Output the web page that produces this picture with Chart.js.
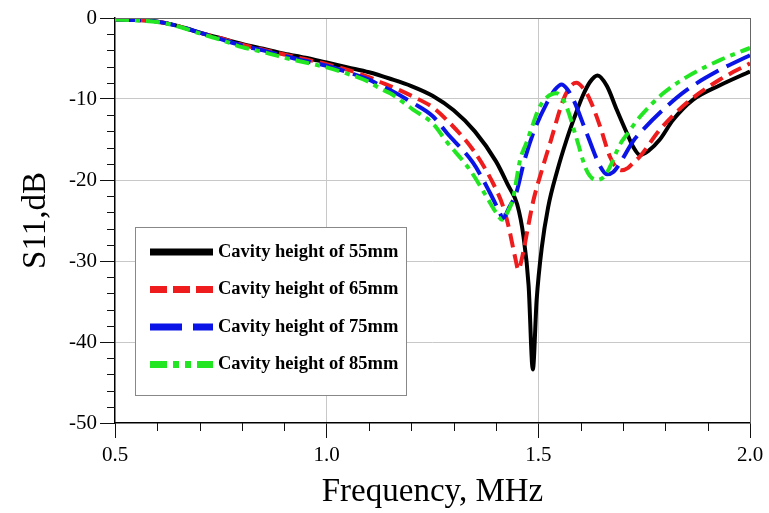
<!DOCTYPE html>
<html>
<head>
<meta charset="utf-8">
<script src="https://cdn.jsdelivr.net/npm/chart.js@4.4.0/dist/chart.umd.min.js"></script>
<style>
  body { margin: 0; background: #fff; }
  #wrap { width: 769px; height: 513px; }
</style>
</head>
<body>
<div id="wrap"><canvas id="s11Chart" width="769" height="513"></canvas></div>
<script>
// S11 vs frequency for four cavity heights
var freq55 = [0.5, 0.55, 0.6, 0.65, 0.7, 0.75, 0.8, 0.85, 0.9, 0.95, 1.0, 1.05, 1.1, 1.15, 1.2, 1.25, 1.3, 1.35, 1.4, 1.43, 1.45, 1.465, 1.477, 1.487, 1.496, 1.508, 1.523, 1.545, 1.567, 1.585, 1.605, 1.622, 1.64, 1.662, 1.685, 1.709, 1.724, 1.74, 1.76, 1.787, 1.818, 1.865, 1.929, 2.0];
var s55    = [-0.2, -0.25, -0.45, -1.0, -1.8, -2.5, -3.2, -3.8, -4.4, -4.9, -5.5, -6.1, -6.7, -7.5, -8.4, -9.6, -11.4, -14.0, -17.7, -20.8, -23.0, -27.0, -33.0, -43.4, -34.8, -28.4, -23.4, -18.8, -15.0, -12.3, -9.6, -7.9, -7.1, -8.4, -11.3, -14.2, -15.9, -16.9, -16.4, -15.0, -12.6, -10.1, -8.3, -6.6];

var freq65 = [0.5, 0.55, 0.6, 0.65, 0.7, 0.75, 0.8, 0.85, 0.9, 0.95, 1.0, 1.05, 1.1, 1.126, 1.15, 1.204, 1.25, 1.284, 1.346, 1.393, 1.417, 1.43, 1.445, 1.453, 1.462, 1.475, 1.488, 1.51, 1.528, 1.559, 1.575, 1.59, 1.605, 1.622, 1.646, 1.669, 1.685, 1.697, 1.712, 1.724, 1.74, 1.787, 1.85, 1.929, 2.0];
var s65    = [-0.2, -0.25, -0.45, -1.0, -1.8, -2.5, -3.3, -3.9, -4.5, -5.1, -5.7, -6.4, -7.3, -7.9, -8.4, -9.7, -11.0, -12.6, -16.3, -20.4, -23.3, -25.8, -29.5, -31.1, -29.5, -26.0, -22.6, -18.5, -15.4, -10.1, -8.5, -8.0, -8.6, -10.1, -13.4, -17.1, -18.5, -18.8, -18.5, -17.9, -17.1, -13.8, -10.5, -7.6, -5.6];

var freq75 = [0.5, 0.55, 0.6, 0.65, 0.7, 0.75, 0.8, 0.85, 0.9, 0.95, 1.0, 1.05, 1.1, 1.126, 1.15, 1.204, 1.25, 1.284, 1.346, 1.386, 1.405, 1.417, 1.43, 1.449, 1.465, 1.488, 1.52, 1.54, 1.555, 1.567, 1.583, 1.614, 1.646, 1.662, 1.677, 1.693, 1.724, 1.74, 1.795, 1.85, 1.929, 2.0];
var s75    = [-0.2, -0.25, -0.45, -1.0, -1.8, -2.6, -3.4, -4.0, -4.7, -5.3, -5.9, -6.7, -7.6, -8.3, -8.9, -10.5, -12.1, -14.2, -17.9, -21.6, -23.6, -24.7, -23.5, -21.4, -18.0, -14.2, -10.5, -8.8, -8.2, -8.7, -10.1, -14.2, -18.3, -19.3, -19.0, -17.9, -15.2, -14.2, -11.3, -8.9, -6.4, -4.6];

var freq85 = [0.5, 0.55, 0.6, 0.65, 0.7, 0.75, 0.8, 0.85, 0.9, 0.95, 1.0, 1.05, 1.1, 1.126, 1.15, 1.204, 1.25, 1.284, 1.339, 1.378, 1.4, 1.414, 1.427, 1.44, 1.457, 1.472, 1.488, 1.5, 1.52, 1.543, 1.555, 1.567, 1.591, 1.614, 1.638, 1.655, 1.669, 1.693, 1.709, 1.74, 1.795, 1.85, 1.929, 2.0];
var s85    = [-0.2, -0.3, -0.5, -1.05, -1.9, -2.7, -3.6, -4.2, -4.9, -5.5, -6.1, -6.9, -7.9, -8.7, -9.3, -11.3, -13.0, -15.3, -18.8, -22.1, -24.0, -24.9, -24.0, -22.3, -17.5, -15.4, -13.0, -11.3, -9.8, -9.3, -9.8, -11.0, -15.0, -18.8, -20.0, -19.6, -18.4, -15.6, -14.4, -12.2, -9.3, -7.3, -5.2, -3.7];

var seriesNames = ["Cavity height of 55mm", "Cavity height of 65mm", "Cavity height of 75mm", "Cavity height of 85mm"];
var xTicks = [0.5, 1.0, 1.5, 2.0];
var yTicks = [0, -10, -20, -30, -40, -50];

function toPoints(fs, vs) {
  return fs.map(function (f, i) { return { x: f, y: vs[i] }; });
}

var serif = "'Liberation Serif', 'Times New Roman', serif";

// minor tick marks + top/right frame
var frameTicks = {
  id: 'frameTicks',
  afterDraw: function (chart) {
    var ctx = chart.ctx, a = chart.chartArea, x = chart.scales.x, y = chart.scales.y;
    ctx.save();
    ctx.strokeStyle = '#111';
    ctx.lineWidth = 1;
    ctx.beginPath();
    for (var i = 1; i < 15; i++) {
      if (i % 5 === 0) continue;
      var px = Math.round(x.getPixelForValue(0.5 + i * 0.1)) + 0.5;
      ctx.moveTo(px, a.bottom);
      ctx.lineTo(px, a.bottom + 8);
    }
    for (var j = 1; j < 25; j++) {
      if (j % 5 === 0) continue;
      var py = Math.round(y.getPixelForValue(-j * 2)) + 0.5;
      ctx.moveTo(a.left, py);
      ctx.lineTo(a.left - 8, py);
    }
    ctx.stroke();
    ctx.strokeStyle = '#666';
    ctx.beginPath();
    ctx.moveTo(a.left, Math.round(a.top) + 0.5);
    ctx.lineTo(Math.round(a.right) + 0.5, Math.round(a.top) + 0.5);
    ctx.lineTo(Math.round(a.right) + 0.5, a.bottom);
    ctx.stroke();
    ctx.restore();
  }
};

// boxed legend inside the plot
var boxLegend = {
  id: 'boxLegend',
  afterDraw: function (chart) {
    var ctx = chart.ctx, a = chart.chartArea;
    var bx = a.left + 20, by = a.top + 209, bw = 271, bh = 168;
    ctx.save();
    ctx.fillStyle = '#fff';
    ctx.fillRect(bx, by, bw, bh);
    ctx.strokeStyle = '#888';
    ctx.lineWidth = 1;
    ctx.strokeRect(bx + 0.5, by + 0.5, bw, bh);
    ctx.font = 'bold 18.5px ' + serif;
    ctx.textBaseline = 'middle';
    chart.data.datasets.forEach(function (ds, i) {
      var ly = by + 25 + i * 37.5;
      ctx.strokeStyle = ds.borderColor;
      ctx.lineWidth = 7;
      ctx.lineCap = 'butt';
      ctx.setLineDash(ds.legendDash);
      ctx.beginPath();
      ctx.moveTo(bx + 15, ly);
      ctx.lineTo(bx + 78, ly);
      ctx.stroke();
      ctx.setLineDash([]);
      ctx.fillStyle = '#000';
      ctx.fillText(ds.label, bx + 83, ly);
    });
    ctx.restore();
  }
};

var ctxS11 = document.getElementById("s11Chart").getContext("2d");
var s11Chart = new Chart(ctxS11, {
  type: 'line',
  data: {
    datasets: [{
        label: seriesNames[0],
        data: toPoints(freq55, s55),
        borderColor: '#000000',
        borderWidth: 4,
        legendDash: [],
        order: 4
      },
      {
        label: seriesNames[1],
        data: toPoints(freq65, s65),
        borderColor: '#ee1c1c',
        borderWidth: 4,
        borderDash: [14, 7],
        legendDash: [17, 6],
        order: 3
      },
      {
        label: seriesNames[2],
        data: toPoints(freq75, s75),
        borderColor: '#0a14e6',
        borderWidth: 4,
        borderDash: [26, 9],
        legendDash: [32, 11],
        order: 2
      },
      {
        label: seriesNames[3],
        data: toPoints(freq85, s85),
        borderColor: '#22e622',
        borderWidth: 4,
        borderDash: [14, 6, 5, 6],
        legendDash: [17, 6, 6, 6, 6, 6],
        order: 1
    }]
  },
  options: {
    responsive: false,
    animation: false,
    events: [],
    elements: { point: { radius: 0 }, line: { cubicInterpolationMode: 'monotone', fill: false } },
    layout: { padding: { top: 18, right: 19, left: 0, bottom: 0 } },
    plugins: { legend: { display: false }, tooltip: { enabled: false } },
    scales: {
      x: {
        type: 'linear',
        min: 0.5,
        max: 2.0,
        afterBuildTicks: function (s) { s.ticks = xTicks.map(function (v) { return { value: v }; }); },
        afterFit: function (s) { s.height = 90; },
        ticks: {
          color: '#000',
          padding: 5,
          maxRotation: 0,
          font: { family: serif, size: 21 },
          callback: function (v) { return Number(v).toFixed(1); }
        },
        grid: {
          tickLength: 15,
          tickColor: '#111',
          color: function (c) {
            if (!c.tick) return '#c8c8c8';
            if (c.tick.value === 0.5) return 'rgba(0,0,0,0)';
            if (c.tick.value === 2.0) return '#666';
            return '#c8c8c8';
          }
        },
        border: { color: '#000', width: 1.5 },
        title: {
          display: true,
          text: 'Frequency, MHz',
          color: '#000',
          font: { family: serif, size: 33, lineHeight: 1 },
          padding: { top: 0, bottom: 4 }
        }
      },
      y: {
        min: -50,
        max: 0,
        afterBuildTicks: function (s) { s.ticks = yTicks.map(function (v) { return { value: v }; }); },
        afterFit: function (s) { s.width = 115; },
        ticks: {
          color: '#000',
          padding: 3,
          font: { family: serif, size: 21 }
        },
        grid: {
          tickLength: 15,
          tickColor: '#111',
          color: function (c) {
            if (!c.tick) return '#c8c8c8';
            if (c.tick.value === 0) return '#666';
            if (c.tick.value === -50) return 'rgba(0,0,0,0)';
            return '#c8c8c8';
          }
        },
        border: { color: '#000', width: 1.5 },
        title: {
          display: true,
          text: 'S11,dB',
          color: '#000',
          font: { family: serif, size: 33, lineHeight: 1 },
          padding: { top: 20, bottom: 0 }
        }
      }
    }
  },
  plugins: [frameTicks, boxLegend]
});
</script>
</body>
</html>
